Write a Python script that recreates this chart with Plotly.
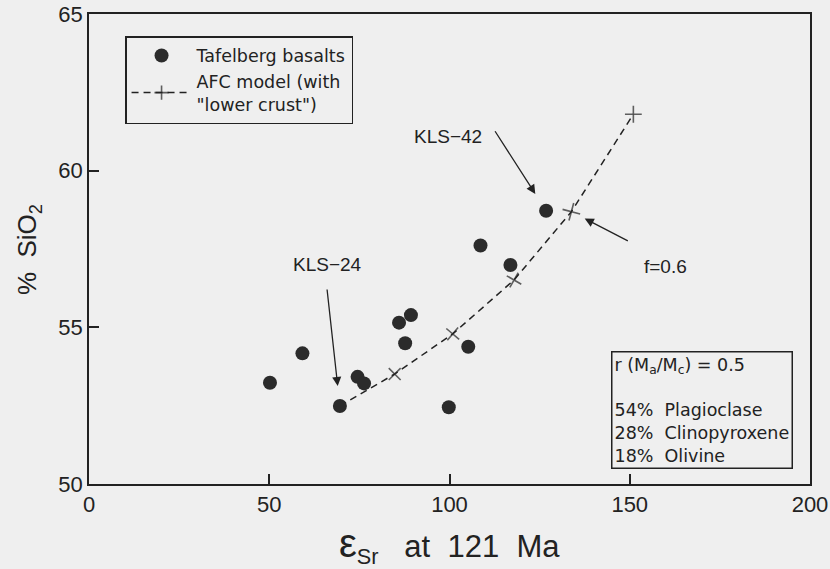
import plotly.graph_objects as go

# ---- data ----
sample_x = [50.2, 59.2, 69.6, 74.5, 76.3, 86.0, 89.3, 87.7, 99.8, 105.2, 108.6, 116.9, 126.8]
sample_y = [53.23, 54.17, 52.49, 53.42, 53.21, 55.15, 55.39, 54.49, 52.45, 54.38, 57.61, 56.99, 58.72]

model_x = [69.6, 84.8, 100.9, 117.9, 133.8, 151.0]
model_y = [52.49, 53.51, 54.79, 56.51, 58.69, 61.80]

x_ticks = [0, 50, 100, 150, 200]
y_ticks = [50, 55, 60, 65]

# ---- styles ----
INK = "#222222"
BG = "#efefef"
model_marker_size = [0, 12, 12, 12, 13, 12]
model_marker_angle = [0, 45, 40, 30, 15, 0]

fig = go.Figure()

fig.add_trace(go.Scatter(
    x=model_x, y=model_y, mode="lines+markers",
    name='AFC model (with<br>"lower crust")',
    line=dict(color=INK, width=1.5, dash="7px,5px"),
    marker=dict(symbol="cross-thin", size=model_marker_size, angle=model_marker_angle,
                color=INK, line=dict(color=INK, width=1.6)),
    legendrank=2,
))

fig.add_trace(go.Scatter(
    x=sample_x, y=sample_y, mode="markers",
    name="Tafelberg basalts",
    marker=dict(symbol="circle", size=14, color="#2b2b2b"),
    legendrank=1,
))

ann_font = dict(family="Liberation Sans, Arial, sans-serif", size=19, color=INK)
arrow_style = dict(showarrow=True, arrowhead=2, arrowsize=1.4, arrowwidth=1.3, arrowcolor=INK)
annotations = [
    dict(x=66.1, y=57.02, xref="x", yref="y", text="KLS−24", showarrow=False, font=ann_font),
    dict(x=99.6, y=61.08, xref="x", yref="y", text="KLS−42", showarrow=False, font=ann_font),
    dict(x=159.9, y=56.93, xref="x", yref="y", text="f=0.6", showarrow=False, font=ann_font),
    dict(x=sample_x[2], y=sample_y[2], xref="x", yref="y", text="",
         ax=-13, ay=-118, standoff=20, **arrow_style),
    dict(x=sample_x[12], y=sample_y[12], xref="x", yref="y", text="",
         ax=-52, ay=-81, standoff=20, **arrow_style),
    dict(x=model_x[4], y=model_y[4], xref="x", yref="y", text="",
         ax=58, ay=30, standoff=15, **arrow_style),
    # info box
    dict(x=0.7235, y=0.283, xref="paper", yref="paper", xanchor="left", yanchor="top",
         text="r (M<sub>a</sub>/M<sub>c</sub>) = 0.5<br><br>54%  Plagioclase<br>28%  Clinopyroxene<br>18%  Olivine",
         align="left", showarrow=False, bordercolor=INK, borderwidth=1.5, borderpad=2,
         font=dict(family="DejaVu Sans, sans-serif", size=17.5, color=INK)),
    # axis titles
    dict(x=0.5, y=-0.13, xref="paper", yref="paper", xanchor="center", yanchor="middle",
         text="<span style='font-size:40px'>ε</span><sub>Sr</sub>   at  121  Ma", showarrow=False,
         font=dict(family="Liberation Sans, Arial, sans-serif", size=31, color=INK)),
    dict(x=-0.083, y=0.498, xref="paper", yref="paper", xanchor="center", yanchor="middle",
         text="%  SiO<sub>2</sub>", textangle=-90, showarrow=False,
         font=dict(family="Liberation Sans, Arial, sans-serif", size=26, color=INK)),
]

axis_common = dict(
    showline=True, linecolor=INK, linewidth=1.8, mirror=True,
    ticks="inside", ticklen=10, tickwidth=1.5, tickcolor=INK,
    showgrid=False, zeroline=False, automargin=False,
    tickfont=dict(family="Liberation Sans, Arial, sans-serif", size=22, color=INK),
)

fig.update_layout(
    width=830, height=569,
    margin=dict(l=89, r=20, t=14, b=85),
    paper_bgcolor=BG, plot_bgcolor=BG,
    xaxis=dict(range=[0, 200], tickvals=x_ticks, **axis_common),
    yaxis=dict(range=[50, 65], tickvals=y_ticks, **axis_common),
    showlegend=True,
    legend=dict(x=0.05, y=0.953, xanchor="left", yanchor="top",
                bordercolor=INK, borderwidth=1.5, bgcolor=BG,
                font=dict(family="DejaVu Sans, sans-serif", size=17.5, color=INK),
                itemwidth=60, tracegroupgap=0),
    annotations=annotations,
)

fig.write_html("out.html")
